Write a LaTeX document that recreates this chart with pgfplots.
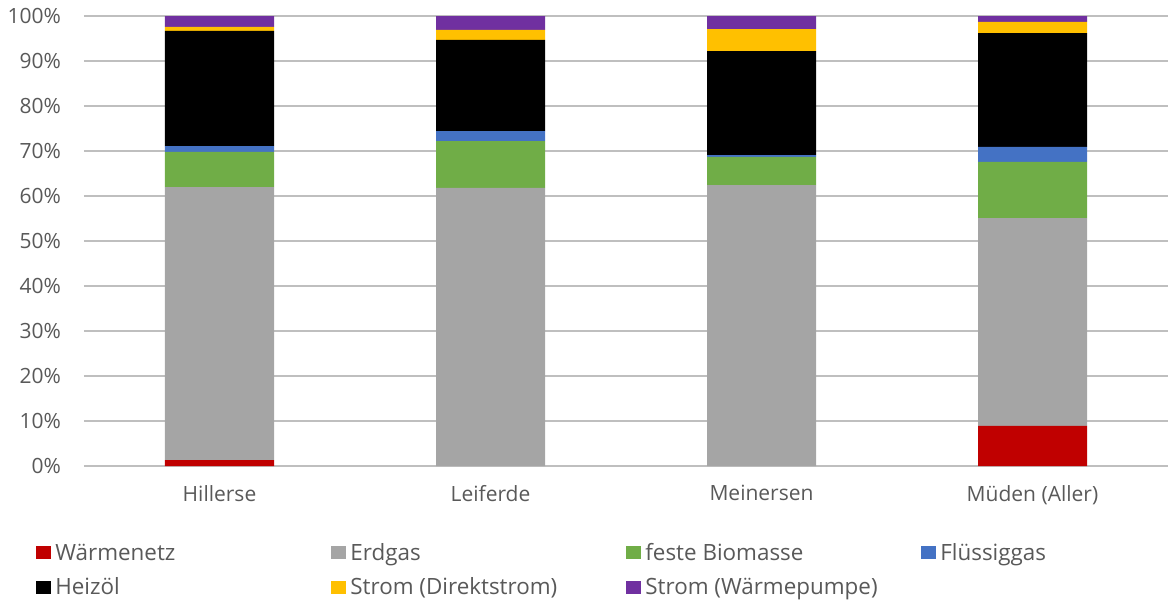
\documentclass[border=0pt]{standalone}
\usepackage{pgfplots}
\pgfplotsset{compat=1.18}
\usepackage{fontspec}
\setmainfont{Open Sans}
\definecolor{cRed}{HTML}{C00000}
\definecolor{cGray}{HTML}{A5A5A5}
\definecolor{cGreen}{HTML}{70AD47}
\definecolor{cBlue}{HTML}{4472C4}
\definecolor{cYellow}{HTML}{FFC000}
\definecolor{cPurple}{HTML}{7030A0}
\definecolor{txt}{HTML}{595959}
\definecolor{grid}{HTML}{D9D9D9}
\newcommand{\legbox}[1]{\makebox[136pt][l]{#1}}
\begin{document}
\begin{tikzpicture}
\useasboundingbox (-42pt,-67.5pt) rectangle (542pt,233pt);
\begin{axis}[
    at={(0,0)}, anchor=south west,
    scale only axis,
    width=542pt, height=225pt,
    xmin=-0.5, xmax=3.5,
    ymin=0, ymax=100,
    ybar stacked,
    bar width=54.5pt,
    axis line style={draw=none},
    major tick length=0pt,
    xtick={0,1,2,3},
    xticklabels={Hillerse,Leiferde,Meinersen,Müden (Aller)},
    ytick={0,10,...,100},
    yticklabel={\pgfmathprintnumber{\tick}\%},
    /pgf/number format/assume math mode=true,
    ymajorgrids=true,
    grid style={grid, line width=0.75pt},
    tick label style={font=\fontsize{10.5}{12}\selectfont, text=txt},
    yticklabel style={xshift=-8pt},
    xticklabel style={yshift=-6pt},
    legend columns=4,
    legend style={draw=none, at={(-27pt,-34.5pt)}, anchor=north west,
        font=\fontsize{11.2}{12}\selectfont, text=txt,
        /tikz/every even column/.append style={column sep=0pt},
        row sep=3.2pt},
    legend cell align=left,
    legend image code/.code={\fill[#1,draw=none] (0pt,-3pt) rectangle (7.5pt,3.5pt);},
    every axis plot/.append style={draw=none},
]
\addplot[fill=cRed] coordinates {(0,1.3) (1,0) (2,0) (3,8.9)};
\addplot[fill=cGray] coordinates {(0,60.7) (1,61.8) (2,62.4) (3,46.2)};
\addplot[fill=cGreen] coordinates {(0,7.8) (1,10.4) (2,6.3) (3,12.5)};
\addplot[fill=cBlue] coordinates {(0,1.3) (1,2.2) (2,0.4) (3,3.3)};
\addplot[fill=black] coordinates {(0,25.6) (1,20.3) (2,23.1) (3,25.3)};
\addplot[fill=cYellow] coordinates {(0,0.9) (1,2.2) (2,4.9) (3,2.5)};
\addplot[fill=cPurple] coordinates {(0,2.4) (1,3.1) (2,2.9) (3,1.3)};
\legend{\legbox{Wärmenetz},\legbox{Erdgas},\legbox{feste Biomasse},\legbox{Flüssiggas},\legbox{Heizöl},\legbox{Strom (Direktstrom)},\legbox{Strom (Wärmepumpe)}}
\end{axis}
\end{tikzpicture}
\end{document}
